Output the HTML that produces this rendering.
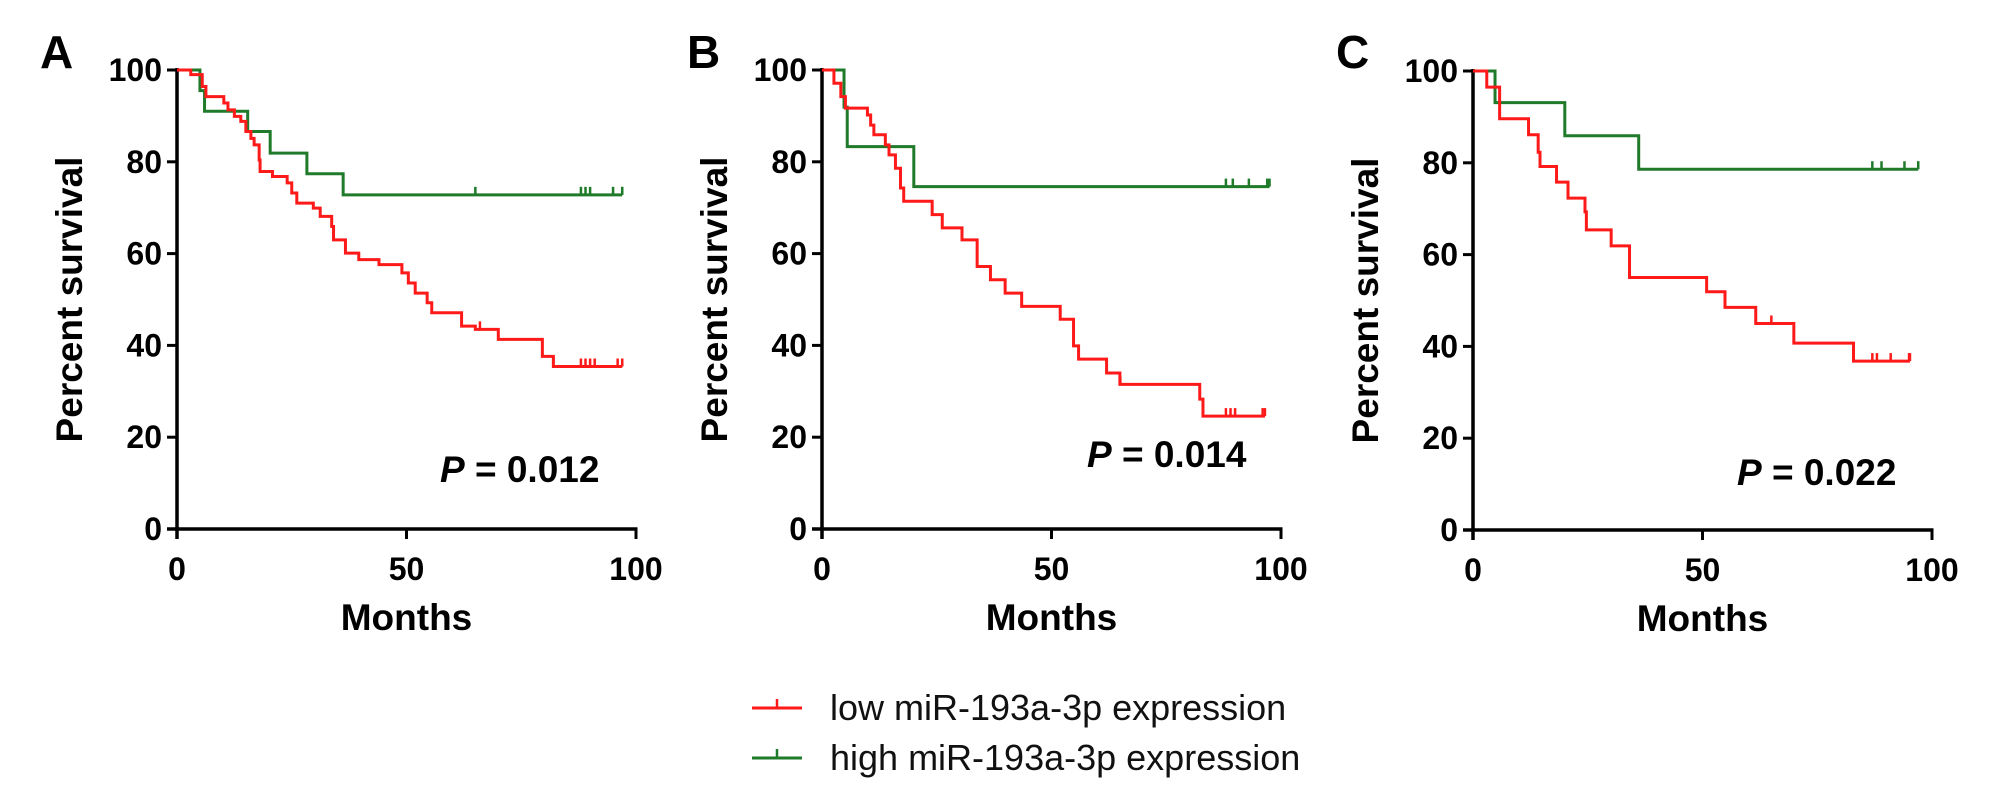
<!DOCTYPE html>
<html><head><meta charset="utf-8"><style>
html,body{margin:0;padding:0;background:#fff;}
svg{display:block;font-family:"Liberation Sans",Arial,sans-serif;}
</style></head><body>
<svg id="fig" width="2008" height="803" viewBox="0 0 2008 803" xmlns="http://www.w3.org/2000/svg">
<rect width="2008" height="803" fill="#fff"/>
<g>
  <g>
    <line x1="752" y1="708" x2="802" y2="708" stroke="#ff1a1a" stroke-width="3"/>
    <line x1="777" y1="708" x2="777" y2="699" stroke="#ff1a1a" stroke-width="2.5"/>
    <text x="830" y="720" font-size="36" fill="#111">low miR-193a-3p expression</text>
  </g>
  <g>
    <line x1="752" y1="758" x2="802" y2="758" stroke="#1f7a2a" stroke-width="3"/>
    <line x1="777" y1="758" x2="777" y2="749" stroke="#1f7a2a" stroke-width="2.5"/>
    <text x="830" y="770" font-size="36" fill="#111">high miR-193a-3p expression</text>
  </g>
</g>
</svg>
<script>
// Panel A data
const aLowT = [3,5.5,6.3,10.2,11.1,12.5,13.9,15,16.1,16.8,17.9,18.1,20.8,24,25,26.1,29.7,31.2,33.7,34.1,36.7,39.6,44,49,50.4,51.9,54.5,55.5,62,65,70,79.6,82];
const aLowS = [99,96.4,94.2,92.8,91.3,89.9,88.8,86.6,85.1,83.7,80.4,77.9,76.8,75.4,73.2,71,69.9,68.1,65.9,63,60.1,58.7,57.6,55.8,53.6,51.4,49.3,47.1,44.2,43.5,41.3,37.6,35.4];
const aLowCens = [66,88,89,90,91,96,97];
const aLowEnd = 97;
const aHighT = [5,6,15.4,20.3,28.3,36.2];
const aHighS = [95.5,91,86.6,81.9,77.4,72.8];
const aHighCens = [65,88,89,90,95,97];
const aHighEnd = 97;
// Panel B data
const bLowT = [2.6,4.1,5.1,9.9,10.6,11.3,13.8,14.6,16,17.1,17.8,24,26.2,30.5,33.8,36.7,39.9,43.5,51.9,54.8,55.9,62,64.9,82.3,83];
const bLowS = [97.1,94.2,91.7,90.2,88,85.9,83.7,81.5,78.6,74.3,71.4,68.5,65.6,63,57.2,54.3,51.4,48.5,45.7,39.9,37,34,31.5,28.3,24.6];
const bLowCens = [65,88,89,90,96];
const bLowEnd = 96.5;
const bHighT = [4.8,5.5,20];
const bHighS = [91.9,83.3,74.6];
const bHighCens = [88,89.5,93,97];
const bHighEnd = 97.5;
// Panel C data
const cLowT = [3,5.8,12.1,14.2,14.6,18.2,20.7,24.4,24.7,30.1,34.1,50.9,54.9,61.6,69.9,82.9];
const cLowS = [96.5,89.6,86.1,82.3,79.2,75.8,72.3,69.3,65.4,61.9,55,51.9,48.5,45,40.7,36.8];
const cLowCens = [65,87,88,91,95];
const cLowEnd = 95.2;
const cHighT = [4.8,20,36.1];
const cHighS = [93.1,85.9,78.6];
const cHighCens = [87,89,94,97];
const cHighEnd = 97;
// tick labels
const yTicks = [0,20,40,60,80,100];
const xTicks = [0,50,100];
const pLabels = ["0.012","0.014","0.022"];
const letters = ["A","B","C"];

const NS = "http://www.w3.org/2000/svg";
const svg = document.getElementById("fig");
function mk(tag, attrs, parent){const e=document.createElementNS(NS,tag);for(const k in attrs)e.setAttribute(k,attrs[k]);(parent||svg).appendChild(e);return e;}

const panels = [
  {x0:177,y0:529,low:[aLowT,aLowS,aLowCens,aLowEnd],high:[aHighT,aHighS,aHighCens,aHighEnd],px:440,py:482,lx:40,name:"a"},
  {x0:822,y0:529,low:[bLowT,bLowS,bLowCens,bLowEnd],high:[bHighT,bHighS,bHighCens,bHighEnd],px:1087,py:467,lx:687,name:"b"},
  {x0:1473,y0:530,low:[cLowT,cLowS,cLowCens,cLowEnd],high:[cHighT,cHighS,cHighCens,cHighEnd],px:1737,py:485,lx:1336,name:"c"}
];
const UX = 4.59, UY = 4.59;

panels.forEach((p,i)=>{
  const X = t=>p.x0+t*UX, Y = s=>p.y0-s*UY;
  const g = mk("g",{});
  
  
  const lt = mk("text",{x:p.lx,y:68,"font-size":46,"font-weight":"bold",fill:"#000"},g);
  lt.textContent = letters[i];
  
  
  const ya = mk("line",{x1:X(0),y1:Y(100)-2,x2:X(0),y2:Y(0)+10,stroke:"#000","stroke-width":3.5},g);
  
  
  const xa = mk("line",{x1:X(0)-10,y1:Y(0),x2:X(100)+1.5,y2:Y(0),stroke:"#000","stroke-width":3.5},g);
  
  
  yTicks.forEach(v=>{
    mk("line",{x1:X(0)-10,y1:Y(v),x2:X(0),y2:Y(v),stroke:"#000","stroke-width":3},g);
    const t = mk("text",{x:X(0)-15,y:Y(v)+11,"font-size":32,"font-weight":"bold","text-anchor":"end",fill:"#000"},g);
    t.textContent = v;
    
    
  });
  xTicks.forEach(v=>{
    mk("line",{x1:X(v),y1:Y(0),x2:X(v),y2:Y(0)+10,stroke:"#000","stroke-width":3},g);
    const t = mk("text",{x:X(v),y:Y(0)+51,"font-size":32,"font-weight":"bold","text-anchor":"middle",fill:"#000"},g);
    t.textContent = v;
    
    
  });
  const xt = mk("text",{x:X(50),y:Y(0)+101,"font-size":37,"font-weight":"bold","text-anchor":"middle",fill:"#000"},g);
  xt.textContent = "Months";
  
  
  const yt = mk("text",{x:0,y:0,"font-size":37,"font-weight":"bold","text-anchor":"middle",fill:"#000",transform:`translate(${X(0)-95},${Y(50)}) rotate(-90)`},g);
  yt.textContent = "Percent survival";
  
  
  const pt = mk("text",{x:p.px,y:p.py,"font-size":37,"font-weight":"bold",fill:"#000"},g);
  pt.innerHTML = '<tspan font-style="italic">P</tspan> = '+pLabels[i];
  
  
  [["high","#1f7a2a",p.high],["low","#ff1a1a",p.low]].forEach(([nm,col,d])=>{
    const [T,S,C,E]=d;
    let path = `M${X(0)},${Y(100)}`;
    for(let k=0;k<T.length;k++){ path += ` H${X(T[k])} V${Y(S[k])}`; }
    path += ` H${X(E)}`;
    const pe = mk("path",{d:path,fill:"none",stroke:col,"stroke-width":3},g);
    
    
    C.forEach(c=>{
      let s=100; for(let k=0;k<T.length;k++){ if(T[k]<=c) s=S[k]; }
      const cm = mk("line",{x1:X(c),y1:Y(s),x2:X(c),y2:Y(s)-8,stroke:col,"stroke-width":2.5},g);
      
      
    });
    const last = S[S.length-1];
    mk("line",{x1:X(E),y1:Y(last),x2:X(E),y2:Y(last)-8,stroke:col,"stroke-width":2.5},g);
  });
});
</script>
</body></html>
